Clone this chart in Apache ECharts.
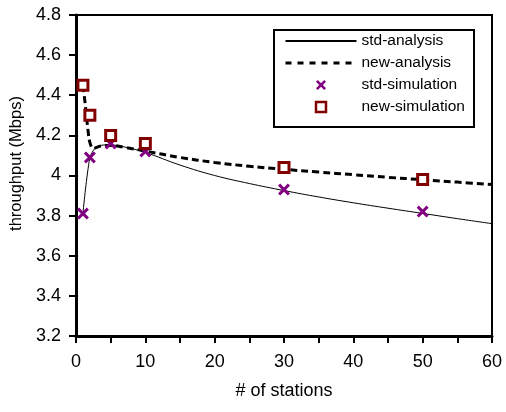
<!DOCTYPE html>
<html>
<head>
<meta charset="utf-8">
<script src="https://cdn.jsdelivr.net/npm/echarts@6/dist/echarts.min.js"></script>
<style>html,body{margin:0;padding:0;background:#fff}#c{width:506px;height:412px}</style>
</head>
<body>
<div id="c"></div>
<script>
// Data
var simStations = [1, 2, 5, 10, 30, 50];
var stdSimulation = [3.81, 4.09, 4.16, 4.12, 3.93, 3.82];
var newSimulation = [4.45, 4.30, 4.20, 4.16, 4.04, 3.98];

var anaStations = [1, 1.25, 1.5, 1.75, 2, 2.5, 3, 4, 5, 7, 10, 15, 20, 25, 30, 35, 40, 45, 50, 55, 60];
var stdAnalysis = [3.81, 3.895, 3.97, 4.035, 4.085, 4.125, 4.14, 4.152, 4.152, 4.142, 4.115, 4.052, 4.0, 3.96, 3.925, 3.893, 3.864, 3.837, 3.811, 3.785, 3.76];
var newAnalysis = [4.45, 4.38, 4.30, 4.22, 4.165, 4.135, 4.14, 4.15, 4.15, 4.14, 4.122, 4.09, 4.065, 4.046, 4.031, 4.017, 4.004, 3.991, 3.979, 3.967, 3.955];

var xTicks = {min: 0, max: 60, interval: 5, labelEvery: 10};
var yTicks = {min: 3.2, max: 4.8, interval: 0.2};

function pairs(xs, ys) { return xs.map(function (x, i) { return [x, ys[i]]; }); }

var FONT = "'Liberation Sans', Arial, sans-serif";
var crossPath = 'path://M0,1.8L1.8,0L5,3.2L8.2,0L10,1.8L6.8,5L10,8.2L8.2,10L5,6.8L1.8,10L0,8.2L3.2,5Z';
var squarePath = 'path://M0,0L10,0L10,10L0,10Z';
var hidden = {color: 'rgba(0,0,0,0)', borderColor: 'rgba(0,0,0,0)', borderWidth: 0};

var chart = echarts.init(document.getElementById('c'), null, {renderer: 'canvas'});
chart.setOption({
  backgroundColor: '#fff',
  animation: false,
  textStyle: {fontFamily: FONT},
  grid: {left: 76, right: 14, top: 15, bottom: 76, show: true, borderColor: '#000', borderWidth: 2, backgroundColor: 'transparent'},
  graphic: [{
    type: 'rect', left: 273, top: 29, z: 50,
    shape: {width: 200, height: 97},
    style: {fill: '#fff', stroke: '#000', lineWidth: 2}
  }],
  legend: {
    orient: 'vertical', left: 284, top: 33, padding: 0, z: 60,
    itemWidth: 71, itemHeight: 10, itemGap: 6,
    textStyle: {fontFamily: FONT, fontSize: 15.5, color: '#000', lineHeight: 16},
    data: [
      {name: 'std-analysis', itemStyle: hidden},
      {name: 'new-analysis', itemStyle: hidden, lineStyle: {type: [6, 6], width: 3}},
      {name: 'std-simulation'},
      {name: 'new-simulation', icon: squarePath, itemStyle: {borderWidth: 2.5}}
    ]
  },
  xAxis: {
    type: 'value', min: xTicks.min, max: xTicks.max, interval: xTicks.interval,
    name: '# of stations', nameLocation: 'middle', nameGap: 46,
    nameTextStyle: {fontFamily: FONT, fontSize: 18, color: '#000'},
    axisLine: {show: true, onZero: false, lineStyle: {color: '#000', width: 3}},
    axisTick: {show: true, length: 7, inside: false, lineStyle: {color: '#000', width: 2}},
    axisLabel: {fontFamily: FONT, fontSize: 18, color: '#000', margin: 17,
      formatter: function (v) { return v % xTicks.labelEvery === 0 ? String(v) : ''; }},
    splitLine: {show: false}
  },
  yAxis: {
    type: 'value', min: yTicks.min, max: yTicks.max, interval: yTicks.interval,
    name: 'throughput (Mbps)', nameLocation: 'middle', nameGap: 46, nameRotate: 90,
    nameTextStyle: {fontFamily: FONT, fontSize: 16.5, color: '#000', padding: [0, 0, 0, 24]},
    axisLine: {show: true, onZero: false, lineStyle: {color: '#000', width: 3}},
    axisTick: {show: true, length: 7, inside: false, lineStyle: {color: '#000', width: 2}},
    axisLabel: {fontFamily: FONT, fontSize: 18, color: '#000', margin: 15,
      formatter: function (v) { return String(+v.toFixed(1)); }},
    splitLine: {show: false}
  },
  series: [
    {
      name: 'std-analysis', type: 'line', data: pairs(anaStations, stdAnalysis),
      symbol: 'none', smooth: 0.4,
      lineStyle: {color: '#000', width: 1}, itemStyle: {color: '#000'}, z: 2
    },
    {
      name: 'new-analysis', type: 'line', data: pairs(anaStations, newAnalysis),
      symbol: 'none', smooth: 0.4,
      lineStyle: {color: '#000', width: 3, type: [7, 4]}, itemStyle: {color: '#000'}, z: 2
    },
    {
      name: 'std-simulation', type: 'scatter', data: pairs(simStations, stdSimulation),
      symbol: crossPath, symbolSize: 12,
      itemStyle: {color: '#800080', opacity: 1}, z: 3
    },
    {
      name: 'new-simulation', type: 'scatter', data: pairs(simStations, newSimulation),
      symbol: squarePath, symbolSize: 10,
      itemStyle: {color: '#fff', borderColor: '#800000', borderWidth: 3, opacity: 1}, z: 4
    }
  ]
});
</script>
</body>
</html>
